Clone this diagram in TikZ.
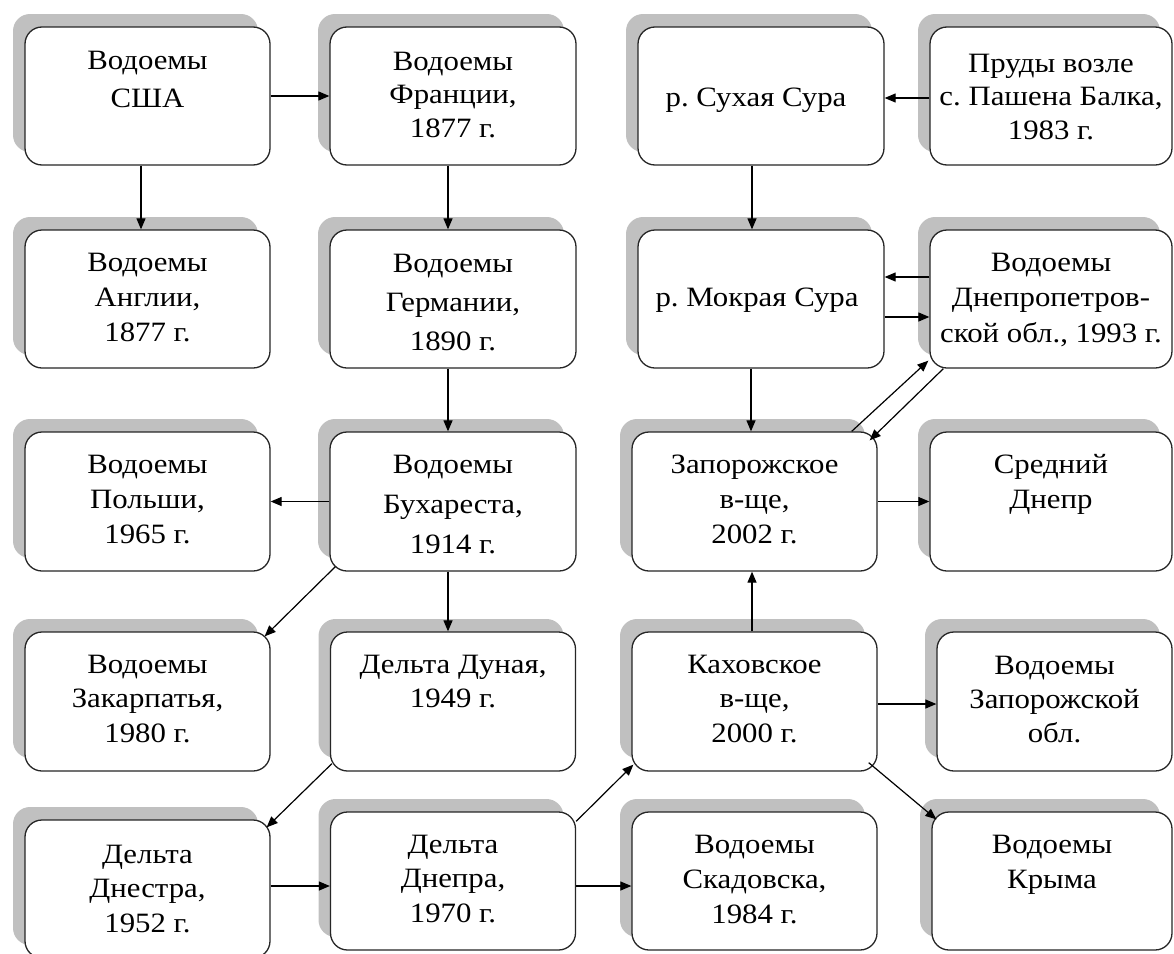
\documentclass[tikz,border=0pt]{standalone}
\usepackage{fontspec}
\setmainfont[FakeStretch=1.1]{Liberation Serif}
\usetikzlibrary{arrows.meta,shadows}
\definecolor{shd}{HTML}{C0C0C0}
\definecolor{edgec}{HTML}{262626}
\frenchspacing
\newcommand\bt[2]{\parbox[t]{260pt}{\centering\fontsize{28pt}{#1}\selectfont #2}}
\begin{document}
\begin{tikzpicture}[x=1pt,y=-1pt,
  box/.style={draw=edgec, line width=1.3pt, fill=white, rounded corners=17pt, inner sep=0pt,
    general shadow={fill=shd, shadow xshift=-12pt, shadow yshift=13pt}},
  txt/.style={anchor=base, inner sep=0pt},
  arr/.style={draw=black, line width=1.2pt, -{Triangle[length=11pt,width=9pt]}}]
\useasboundingbox (0,0) rectangle (1174,953);

% boxes
\node[box, minimum width=245pt, minimum height=138pt] (usa)  at (147.5,96) {};
\node[box, minimum width=246pt, minimum height=138pt] (fra)  at (453,96) {};
\node[box, minimum width=246pt, minimum height=138pt] (suh)  at (761,96) {};
\node[box, minimum width=242pt, minimum height=138pt] (prud) at (1051,96) {};

\node[box, minimum width=245pt, minimum height=138pt] (eng)  at (147.5,299) {};
\node[box, minimum width=246pt, minimum height=138pt] (ger)  at (453,299) {};
\node[box, minimum width=246pt, minimum height=138pt] (mok)  at (761,299) {};
\node[box, minimum width=242pt, minimum height=138pt] (dnep) at (1051,299) {};

\node[box, minimum width=245pt, minimum height=139pt] (pol)  at (147.5,501.5) {};
\node[box, minimum width=246pt, minimum height=139pt] (buh)  at (453,501.5) {};
\node[box, minimum width=245pt, minimum height=139pt] (zap)  at (754.5,501.5) {};
\node[box, minimum width=242pt, minimum height=139pt] (sred) at (1051,501.5) {};

\node[box, minimum width=245pt, minimum height=139pt] (zak)  at (147.5,701.5) {};
\node[box, minimum width=245pt, minimum height=139pt] (dun)  at (453,701.5) {};
\node[box, minimum width=245pt, minimum height=139pt] (kah)  at (754.5,701.5) {};
\node[box, minimum width=235pt, minimum height=139pt] (zpo)  at (1054.5,701.5) {};

\node[box, minimum width=245pt, minimum height=138pt] (dns)  at (147.5,889) {};
\node[box, minimum width=245pt, minimum height=138pt] (dnp)  at (453,881) {};
\node[box, minimum width=245pt, minimum height=138pt] (skd)  at (754.5,881) {};
\node[box, minimum width=240pt, minimum height=138pt] (krm)  at (1052,881) {};

% texts
\node[txt] (usa-t)  at (147.5,69)  {\bt{38pt}{Водоемы\\США}};
\node[txt] (fra-t)  at (453,70)    {\bt{33.5pt}{Водоемы\\Франции,\\1877 г.}};
\node[txt] (suh-t)  at (756,106)   {\bt{34.5pt}{р. Сухая Сура}};
\node[txt] (prud-t) at (1051,72)   {\bt{33.5pt}{Пруды возле\\с. Пашена Балка,\\1983 г.}};

\node[txt] (eng-t)  at (147.5,271) {\bt{35pt}{Водоемы\\Англии,\\1877 г.}};
\node[txt] (ger-t)  at (453,272)   {\bt{39pt}{Водоемы\\Германии,\\1890 г.}};
\node[txt] (mok-t)  at (757,306)   {\bt{34.5pt}{р. Мокрая Сура}};
\node[txt] (dnep-t) at (1051,271)  {\bt{35.5pt}{Водоемы\\Днепропетров-\\ской обл., 1993 г.}};

\node[txt] (pol-t)  at (147.5,473) {\bt{35pt}{Водоемы\\Польши,\\1965 г.}};
\node[txt] (buh-t)  at (453,473)   {\bt{40pt}{Водоемы\\Бухареста,\\1914 г.}};
\node[txt] (zap-t)  at (754.5,473) {\bt{35pt}{Запорожское\\в-ще,\\2002 г.}};
\node[txt] (sred-t) at (1051,473)  {\bt{35pt}{Средний\\Днепр}};

\node[txt] (zak-t)  at (147.5,673) {\bt{34.5pt}{Водоемы\\Закарпатья,\\1980 г.}};
\node[txt] (dun-t)  at (453,673)   {\bt{34.5pt}{Дельта Дуная,\\1949 г.}};
\node[txt] (kah-t)  at (754.5,673) {\bt{34.5pt}{Каховское\\в-ще,\\2000 г.}};
\node[txt] (zpo-t)  at (1054.5,674){\bt{34pt}{Водоемы\\Запорожской\\обл.}};

\node[txt] (dns-t)  at (147.5,863) {\bt{34.5pt}{Дельта\\Днестра,\\1952 г.}};
\node[txt] (dnp-t)  at (453,853)   {\bt{34.5pt}{Дельта\\Днепра,\\1970 г.}};
\node[txt] (skd-t)  at (754.5,853) {\bt{35pt}{Водоемы\\Скадовска,\\1984 г.}};
\node[txt] (krm-t)  at (1052,853)  {\bt{35pt}{Водоемы\\Крыма}};

% connectors
\draw[arr] (usa.east) -- (fra.west);
\draw[arr] ([xshift=-6.5pt]usa.south) -- ([xshift=-6.5pt]eng.north);
\draw[arr] ([xshift=-5pt]fra.south) -- ([xshift=-5pt]ger.north);
\draw[arr] ([xshift=-5pt]ger.south) -- ([xshift=-5pt]buh.north);
\draw[arr] (buh.west) -- (pol.east);
\draw[arr] ([xshift=6pt,yshift=5pt]buh.south west) -- ([xshift=-6pt,yshift=-5pt]zak.north east);
\draw[arr] ([xshift=-5pt]buh.south) -- ([xshift=-5pt]dun.north);
\draw[arr] ([xshift=2pt,yshift=8pt]dun.south west) -- ([xshift=-4pt,yshift=-8pt]dns.north east);
\draw[arr] ([yshift=3pt]dns.east) -- ([yshift=-5pt]dnp.west);
\draw[arr] ([yshift=-5pt]dnp.east) -- ([yshift=-5pt]skd.west);
\draw[arr] ([yshift=-10pt]dnp.north east) -- ([xshift=2pt,yshift=7pt]kah.south west);
\draw[arr] ([xshift=-2.5pt]kah.north) -- ([xshift=-2.5pt]zap.south);
\draw[arr] ([yshift=-2.5pt]kah.east) -- ([yshift=-2.5pt]zpo.west);
\draw[arr] ([xshift=-9pt,yshift=9pt]kah.south east) -- ([xshift=5pt,yshift=-8pt]krm.north west);
\draw[arr] (zap.east) -- (sred.west);
\draw[arr] ([xshift=-10pt]mok.south) -- ([xshift=-3.5pt]zap.north);
\draw[arr] ([xshift=-9pt]suh.south) -- ([xshift=-9pt]mok.north);
\draw[arr] ([yshift=-2pt]prud.west) -- ([yshift=-2pt]suh.east);
\draw[arr] ([yshift=22pt]dnep.west) -- ([yshift=22pt]mok.east);
\draw[arr] ([yshift=-18pt]mok.east) -- ([yshift=-18pt]dnep.west);
\draw[arr] ([xshift=-26pt]zap.north east) -- ([xshift=-1pt,yshift=8pt]dnep.south west);
\draw[arr] ([xshift=14pt]dnep.south west) -- ([xshift=-8pt,yshift=-9pt]zap.north east);
\end{tikzpicture}
\end{document}
